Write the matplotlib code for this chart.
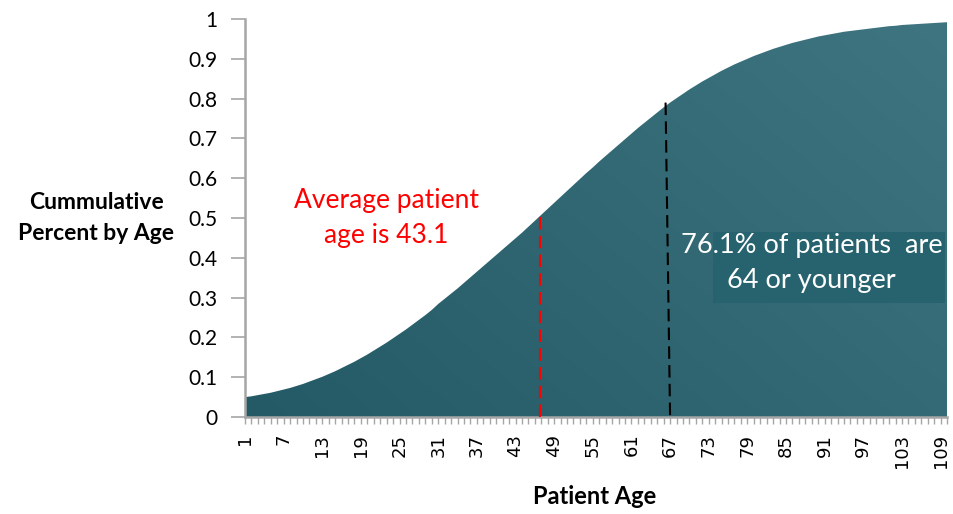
import numpy as np
import matplotlib.pyplot as plt
from matplotlib.colors import LinearSegmentedColormap
from matplotlib.patches import Rectangle

# Cumulative share of patients by age
ages = np.arange(1, 111)
cum_pct = [
    0.050, 0.052, 0.055, 0.058, 0.061, 0.065, 0.069, 0.073, 0.078, 0.083,
    0.089, 0.095, 0.101, 0.108, 0.115, 0.123, 0.131, 0.139, 0.148, 0.157,
    0.167, 0.177, 0.187, 0.198, 0.209, 0.220, 0.232, 0.244, 0.256, 0.269,
    0.284, 0.297, 0.310, 0.323, 0.337, 0.351, 0.365, 0.379, 0.393, 0.407,
    0.421, 0.435, 0.449, 0.463, 0.478, 0.493, 0.508, 0.523, 0.538, 0.553,
    0.568, 0.583, 0.598, 0.613, 0.627, 0.642, 0.656, 0.670, 0.684, 0.698,
    0.712, 0.726, 0.739, 0.752, 0.765, 0.778, 0.790, 0.801, 0.812, 0.823,
    0.833, 0.843, 0.852, 0.861, 0.870, 0.878, 0.886, 0.893, 0.900, 0.907,
    0.913, 0.919, 0.925, 0.930, 0.935, 0.940, 0.944, 0.948, 0.952, 0.956,
    0.959, 0.962, 0.965, 0.968, 0.970, 0.972, 0.974, 0.976, 0.978, 0.980,
    0.982, 0.983, 0.985, 0.986, 0.987, 0.988, 0.989, 0.990, 0.991, 0.992,
]
y_ticks = [0, 0.1, 0.2, 0.3, 0.4, 0.5, 0.6, 0.7, 0.8, 0.9, 1]
y_labels = ['0', '0.1', '0.2', '0.3', '0.4', '0.5', '0.6', '0.7', '0.8', '0.9', '1']
x_labels = [str(a) if (a - 1) % 6 == 0 else '' for a in ages]

avg_line = (46.8, 0.508)              # red dashed marker
pct_line = [(66.3, 0.79), (67.0, 0.0)]  # black dashed marker (slightly slanted)

txt_font = 'Lato'
axis_grey = '#a6a6a6'

fig = plt.figure(figsize=(9.54, 5.14), dpi=100)
ax = fig.add_axes([0.2568, 0.1887, 0.7359, 0.7743])

# area with a diagonal gradient
poly = ax.fill_between(ages, cum_pct, color='none', lw=0)
gx, gy = np.meshgrid(np.linspace(0, 1, 300), np.linspace(0, 1, 200))
grad = 0.6 * gx + 0.4 * gy
cmap = LinearSegmentedColormap.from_list('teal', ['#245a65', '#3f7581'])
im = ax.imshow(grad, extent=[1, 110, 0, 1], origin='lower', aspect='auto',
               cmap=cmap, zorder=1)
im.set_clip_path(poly.get_paths()[0], transform=ax.transData)

# text box behind the annotation
ax.add_patch(Rectangle((73.7, 0.286), 36.0, 0.179, color='#26636f', lw=0, zorder=2))

ax.plot([avg_line[0], avg_line[0]], [0, avg_line[1]], color='red', lw=1.5,
        dashes=(6, 3), zorder=3)
ax.plot([p[0] for p in pct_line], [p[1] for p in pct_line], color='black',
        lw=1.5, dashes=(6, 3), zorder=3)

ax.text(22.9, 0.5, 'Average patient\nage is 43.1', color='red', ha='center',
        va='center', fontsize=19, family=txt_font, linespacing=1.52, zorder=4)
ax.text(89.0, 0.387, '76.1% of patients  are\n64 or younger', color='white',
        ha='center', va='center', fontsize=19.5, family=txt_font,
        linespacing=1.5, zorder=4)

ax.set_xlim(1, 110)
ax.set_ylim(0, 1)
ax.set_xticks(ages)
ax.set_xticklabels(x_labels, rotation=90, fontsize=13, family='DejaVu Sans')
ax.set_yticks(y_ticks)
ax.set_yticklabels(y_labels, fontsize=15, family=txt_font)
ax.tick_params(axis='x', length=5, width=1, color=axis_grey, pad=7)
ax.tick_params(axis='y', length=10, width=1.2, color=axis_grey, pad=10)

for s in ['top', 'right']:
    ax.spines[s].set_visible(False)
for s in ['left', 'bottom']:
    ax.spines[s].set_color(axis_grey)
    ax.spines[s].set_linewidth(1.8)

fig.text(96 / 954, 1 - 218 / 514, 'Cummulative\nPercent by Age', ha='center',
         va='center', fontsize=16.5, fontweight='bold', family=txt_font,
         linespacing=1.55)
fig.text(595 / 954, 1 - 497 / 514, 'Patient Age', ha='center', va='center',
         fontsize=17, fontweight='bold', family=txt_font)

fig.savefig('out.png', dpi=100)
